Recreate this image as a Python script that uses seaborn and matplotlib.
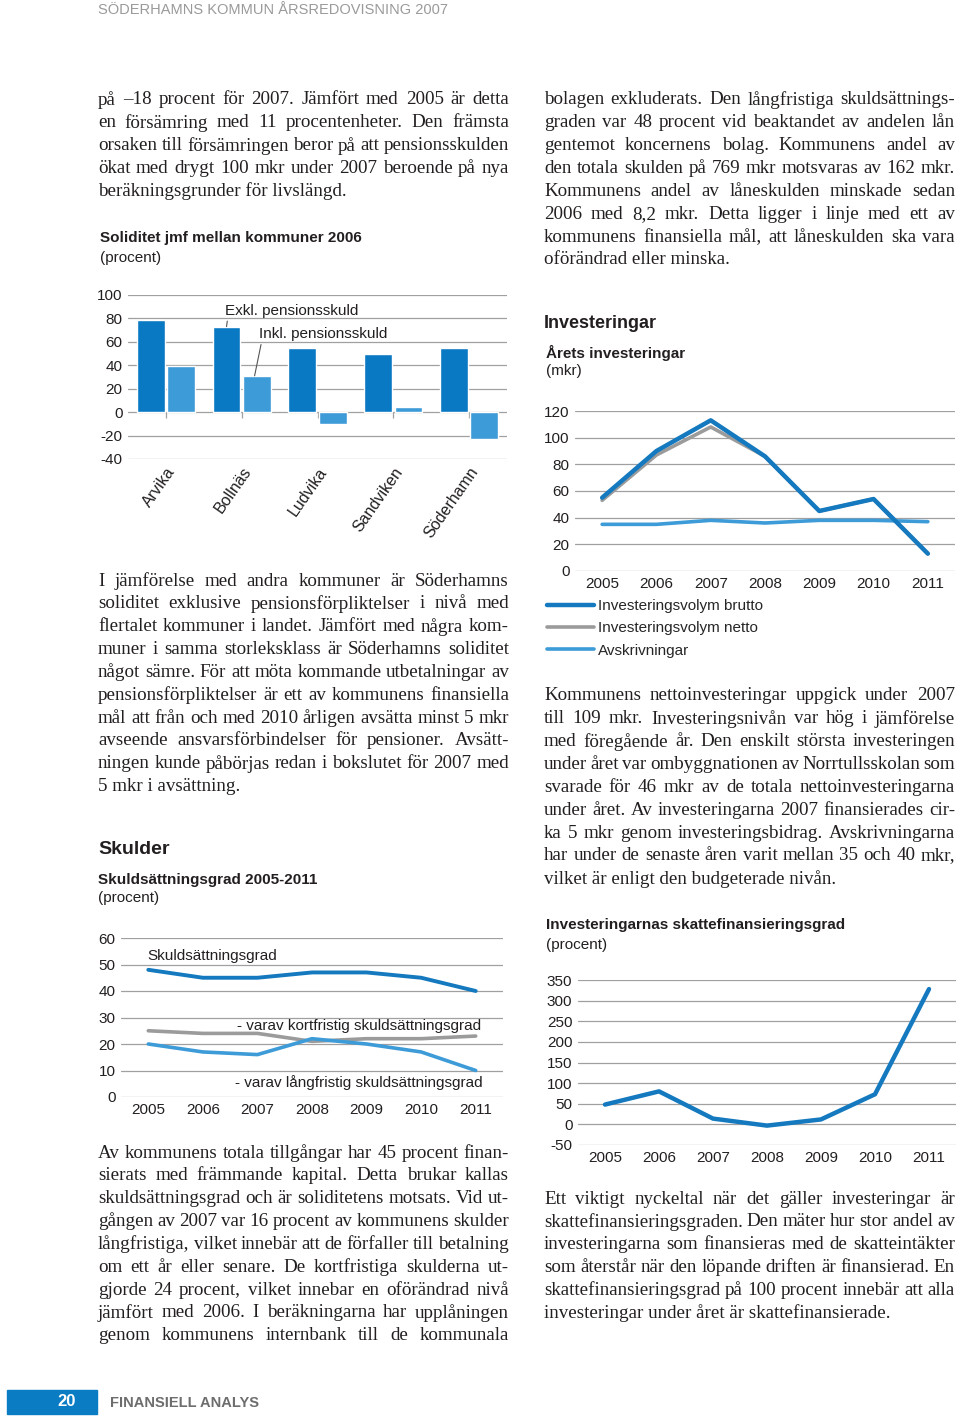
import pandas as pd
import matplotlib.pyplot as plt
import seaborn as sns
from matplotlib.patches import Rectangle

sns.set_style("white")
plt.rcParams['font.family'] = ['Liberation Sans', 'DejaVu Sans']
plt.rcParams['axes.unicode_minus'] = False

W, H = 960, 1420

# --- data ---
kommuner = ['Arvika', 'Bollnäs', 'Ludvika', 'Sandviken', 'Söderhamn']
exkl_pension = [79, 73, 55, 50, 55]
inkl_pension = [39, 31, -10, 4, -23]

years = [2005, 2006, 2007, 2008, 2009, 2010, 2011]
inv_brutto = [55, 90, 113, 86, 45, 54, 13]
inv_netto = [53, 87, 108, 86, 45, 54, 13]
avskrivningar = [35, 35, 38, 36, 38, 38, 37]

skuld_total = [48, 45, 45, 47, 47, 45, 40]
skuld_kort = [25, 24, 24, 21, 22, 22, 23]
skuld_lang = [20, 17, 16, 22, 20, 17, 10]

skattefin = [48, 80, 14, -3, 12, 73, 328]

# --- text ---
txt_left_top = [
    "på –18 procent för 2007. Jämfört med 2005 är detta",
    "en försämring med 11 procentenheter. Den främsta",
    "orsaken till försämringen beror på att pensionsskulden",
    "ökat med drygt 100 mkr under 2007 beroende på nya",
    "beräkningsgrunder för livslängd.",
]
txt_right_top = [
    "bolagen exkluderats. Den långfristiga skuldsättnings-",
    "graden var 48 procent vid beaktandet av andelen lån",
    "gentemot koncernens bolag. Kommunens andel av",
    "den totala skulden på 769 mkr motsvaras av 162 mkr.",
    "Kommunens andel av låneskulden minskade sedan",
    "2006 med 8,2 mkr. Detta ligger i linje med ett av",
    "kommunens finansiella mål, att låneskulden ska vara",
    "oförändrad eller minska.",
]
txt_left_mid = [
    "I jämförelse med andra kommuner är Söderhamns",
    "soliditet exklusive pensionsförpliktelser i nivå med",
    "flertalet kommuner i landet. Jämfört med några kom-",
    "muner i samma storleksklass är Söderhamns soliditet",
    "något sämre. För att möta kommande utbetalningar av",
    "pensionsförpliktelser är ett av kommunens finansiella",
    "mål att från och med 2010 årligen avsätta minst 5 mkr",
    "avseende ansvarsförbindelser för pensioner. Avsätt-",
    "ningen kunde påbörjas redan i bokslutet för 2007 med",
    "5 mkr i avsättning.",
]
txt_right_mid = [
    "Kommunens nettoinvesteringar uppgick under 2007",
    "till 109 mkr. Investeringsnivån var hög i jämförelse",
    "med föregående år. Den enskilt största investeringen",
    "under året var ombyggnationen av Norrtullsskolan som",
    "svarade för 46 mkr av de totala nettoinvesteringarna",
    "under året. Av investeringarna 2007 finansierades cir-",
    "ka 5 mkr genom investeringsbidrag. Avskrivningarna",
    "har under de senaste åren varit mellan 35 och 40 mkr,",
    "vilket är enligt den budgeterade nivån.",
]
txt_left_bot = [
    "Av kommunens totala tillgångar har 45 procent finan-",
    "sierats med främmande kapital. Detta brukar kallas",
    "skuldsättningsgrad och är soliditetens motsats. Vid ut-",
    "gången av 2007 var 16 procent av kommunens skulder",
    "långfristiga, vilket innebär att de förfaller till betalning",
    "om ett år eller senare. De kortfristiga skulderna ut-",
    "gjorde 24 procent, vilket innebar en oförändrad nivå",
    "jämfört med 2006. I beräkningarna har upplåningen",
    "genom kommunens internbank till de kommunala",
]
txt_right_bot = [
    "Ett viktigt nyckeltal när det gäller investeringar är",
    "skattefinansieringsgraden. Den mäter hur stor andel av",
    "investeringarna som finansieras med de skatteintäkter",
    "som återstår när den löpande driften är finansierad. En",
    "skattefinansieringsgrad på 100 procent innebär att alla",
    "investeringar under året är skattefinansierade.",
]

DARK = '#1479be'
LIGHT = '#3d9bd8'
GREY = '#9b9b9b'
GRID = '#a0a0a0'
INK = '#231f20'
SERIF_FAMILY = ['Liberation Serif', 'DejaVu Serif']

fig = plt.figure(figsize=(W / 100, H / 100), dpi=100)
renderer = fig.canvas.get_renderer()


def add_ax(l, t, r, b):
    return fig.add_axes([l / W, 1 - b / H, (r - l) / W, (b - t) / H])


def put(x, y, s, **kw):
    kw.setdefault('va', 'center')
    kw.setdefault('ha', 'left')
    kw.setdefault('color', INK)
    return fig.text(x / W, 1 - y / H, s, **kw)


def paragraph(x, y0, lines, width=411, last_ragged=True, step=22.85, size=13.7):
    # justified text block; a line that would be too tight is set a bit smaller
    for i, line in enumerate(lines):
        y = y0 + i * step
        if i == len(lines) - 1 and last_ragged:
            put(x, y, line, family=SERIF_FAMILY, fontsize=size)
            continue
        words = line.split(' ')
        s = size
        while True:
            texts = [put(0, y, w, family=SERIF_FAMILY, fontsize=s) for w in words]
            ws = [t.get_window_extent(renderer).width for t in texts]
            gap = (width - sum(ws)) / max(len(words) - 1, 1)
            if gap >= 3.2 or s < 11:
                break
            for t in texts:
                t.remove()
            s -= 0.2
        cur = x
        for t, w in zip(texts, ws):
            t.set_x(cur / W)
            cur += w + gap


def style_axis(ax, ylim, yticks):
    ax.set_ylim(*ylim)
    ax.set_yticks(yticks)
    ax.yaxis.grid(True, color=GRID, lw=0.9)
    ax.xaxis.grid(False)
    ax.set_axisbelow(True)
    for sp in ax.spines.values():
        sp.set_visible(False)
    ax.tick_params(axis='y', length=0, pad=4, labelsize=11, labelcolor=INK)
    ax.set_xlabel('')
    ax.set_ylabel('')


# header / footer
put(98, 10, "SÖDERHAMNS KOMMUN ÅRSREDOVISNING 2007", fontsize=10.5, color='#9a9a9a')
fig.patches.append(Rectangle((7 / W, 1 - 1414 / H), 90 / W, 24 / H,
                             transform=fig.transFigure, color='#0a7cc4'))
put(67, 1402, "20", fontsize=12, color='white', ha='center', weight='bold')
put(110, 1403, "FINANSIELL ANALYS", fontsize=10.5, color='#6d6d6d', weight='bold')

# body text
paragraph(98, 100, txt_left_top)
paragraph(544, 100, txt_right_top)
paragraph(98, 581, txt_left_mid)
paragraph(544, 696, txt_right_mid)
paragraph(98, 1153, txt_left_bot, last_ragged=False)
paragraph(544, 1199, txt_right_bot)

# headings
put(100, 238, "Soliditet jmf mellan kommuner 2006", fontsize=11, weight='bold')
put(100, 258, "(procent)", fontsize=11)
put(544, 323, "Investeringar", fontsize=13, weight='bold')
put(546, 353, "Årets investeringar", fontsize=11, weight='bold')
put(546, 371, "(mkr)", fontsize=11)
put(98, 850, "Skulder", fontsize=14, weight='bold')
put(98, 880, "Skuldsättningsgrad 2005-2011", fontsize=11, weight='bold')
put(98, 898, "(procent)", fontsize=11)
put(546, 925, "Investeringarnas skattefinansieringsgrad", fontsize=11, weight='bold')
put(546, 945, "(procent)", fontsize=11)

# ---- chart 1: soliditet bars ----
df_sol = pd.DataFrame({
    'kommun': kommuner * 2,
    'soliditet': exkl_pension + inkl_pension,
    'typ': ['Exkl. pensionsskuld'] * len(kommuner) + ['Inkl. pensionsskuld'] * len(kommuner),
})
ax1 = add_ax(128, 295, 507, 459)
sns.barplot(data=df_sol, x='kommun', y='soliditet', hue='typ', palette=['#0a79c3', LIGHT],
            width=0.8, gap=0.08, saturation=1, legend=False, errorbar=None, ax=ax1)
ax1.set_xlim(-0.5, len(kommuner) - 0.5)
style_axis(ax1, (-40, 100), range(-40, 101, 20))
ax1.tick_params(axis='x', length=0, pad=4, labelsize=11.5, labelcolor=INK)
plt.setp(ax1.get_xticklabels(), rotation=55, ha='right', rotation_mode='anchor')
sec = ax1.secondary_xaxis(40 / 140)
sec.set_xticks(range(len(kommuner)))
sec.set_xticklabels([])
sec.tick_params(length=4, color=GRID, width=0.9)
for sp in sec.spines.values():
    sp.set_visible(False)
ax1.annotate('Exkl. pensionsskuld', xy=(0.8, exkl_pension[1]), xytext=(0.78, 86.5),
             fontsize=11, color=INK, va='center', ha='left',
             arrowprops=dict(arrowstyle='-', color='#555555', lw=0.8, relpos=(0.02, 0),
                             shrinkA=0, shrinkB=0))
ax1.annotate('Inkl. pensionsskuld', xy=(1.17, inkl_pension[1]), xytext=(1.23, 66.5),
             fontsize=11, color=INK, va='center', ha='left',
             arrowprops=dict(arrowstyle='-', color='#555555', lw=0.8, relpos=(0.02, 0),
                             shrinkA=0, shrinkB=0))

# ---- chart 2: investeringar ----
ax2 = add_ax(575, 411, 955, 571)
sns.lineplot(x=years, y=inv_netto, color=GREY, lw=2.6, label='Investeringsvolym netto', ax=ax2)
sns.lineplot(x=years, y=avskrivningar, color=LIGHT, lw=2.6, label='Avskrivningar', ax=ax2)
sns.lineplot(x=years, y=inv_brutto, color=DARK, lw=3.2, label='Investeringsvolym brutto', ax=ax2)
ax2.set_xlim(2004.5, 2011.5)
ax2.set_xticks(years)
style_axis(ax2, (0, 120), range(0, 121, 20))
ax2.tick_params(axis='x', length=4, color=GRID, pad=0.5, labelsize=11, labelcolor=INK)
h, l = ax2.get_legend_handles_labels()
order = [2, 0, 1]
ax2.legend([h[i] for i in order], [l[i] for i in order], loc='upper left',
           bbox_to_anchor=(547 / W, 1 - 599 / H), bbox_transform=fig.transFigure,
           frameon=False, fontsize=11, handlelength=3.1, handletextpad=0.25,
           labelspacing=0.55, borderaxespad=0, borderpad=0)

# ---- chart 3: skuldsättningsgrad ----
ax3 = add_ax(121, 938, 503, 1097)
sns.lineplot(x=years, y=skuld_kort, color=GREY, lw=2.6, ax=ax3)
sns.lineplot(x=years, y=skuld_lang, color=LIGHT, lw=2.6, ax=ax3)
sns.lineplot(x=years, y=skuld_total, color=DARK, lw=2.8, ax=ax3)
ax3.set_xlim(2004.5, 2011.5)
ax3.set_xticks(years)
style_axis(ax3, (0, 60), range(0, 61, 10))
ax3.tick_params(axis='x', length=4, color=GRID, pad=0.5, labelsize=11, labelcolor=INK)
ax3.text(2004.98, 53.2, 'Skuldsättningsgrad', fontsize=11, color=INK, va='center')
ax3.text(2006.63, 26.8, '- varav kortfristig skuldsättningsgrad', fontsize=11, color=INK, va='center')
ax3.text(2006.59, 5.3, '- varav långfristig skuldsättningsgrad', fontsize=11, color=INK, va='center')

# ---- chart 4: skattefinansieringsgrad ----
ax4 = add_ax(578, 980, 956, 1145)
sns.lineplot(x=years, y=skattefin, color=DARK, lw=3.2, ax=ax4)
ax4.set_xlim(2004.5, 2011.5)
ax4.set_xticks(years)
style_axis(ax4, (-50, 350), range(-50, 351, 50))
ax4.tick_params(axis='x', length=4, color=GRID, pad=0.5, labelsize=11, labelcolor=INK)

fig.savefig('out.png', dpi=100)
